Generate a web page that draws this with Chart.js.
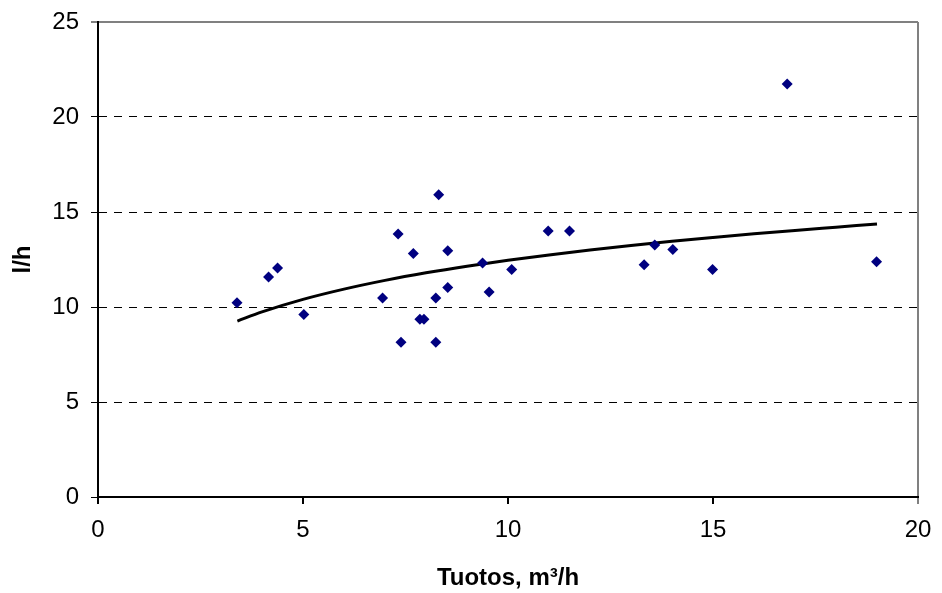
<!DOCTYPE html>
<html>
<head>
<meta charset="utf-8">
<script src="https://cdn.jsdelivr.net/npm/chart.js@4"></script>
<style>
  html, body { margin: 0; padding: 0; background: #fff; }
  #wrap { width: 942px; height: 593px; }
</style>
</head>
<body>
<div id="wrap"><canvas id="c" width="942" height="593"></canvas></div>
<script>
// Measured points (Tuotos m3/h vs l/h)
const pointX = [3.39, 4.16, 4.38, 5.02, 6.94, 7.32, 7.39, 7.69, 7.85, 7.95, 8.24, 8.24, 8.31, 8.53, 8.53, 9.38, 9.54, 10.09, 10.98, 11.5, 13.32, 13.58, 14.02, 14.99, 16.81, 18.99];
const pointY = [10.23, 11.58, 12.05, 9.6, 10.47, 13.84, 8.14, 12.81, 9.35, 9.35, 10.47, 8.14, 15.91, 12.96, 11.03, 12.32, 10.79, 11.98, 14.0, 14.0, 12.23, 13.26, 13.02, 11.98, 21.74, 12.38];
// Trend curve
const trendX = [3.4, 4, 5, 6, 7, 8, 9, 10, 11, 12, 13, 14, 15, 16, 17, 18, 19];
const trendY = [9.26, 9.74, 10.40, 10.94, 11.40, 11.80, 12.15, 12.46, 12.74, 13.00, 13.24, 13.46, 13.66, 13.85, 14.03, 14.20, 14.37];
// Axes
const xMin = 0, xMax = 20, xStep = 5;
const yMin = 0, yMax = 25, yStep = 5;
const xTitle = 'Tuotos, m³/h';
const yTitle = 'l/h';

const FONT = "'Liberation Sans', Arial, sans-serif";

const scatterData = pointX.map((x, i) => ({ x: x, y: pointY[i] }));
const trendData = trendX.map((x, i) => ({ x: x, y: trendY[i] }));

new Chart(document.getElementById('c'), {
  type: 'scatter',
  data: {
    datasets: [
      {
        label: 'points',
        data: scatterData,
        pointStyle: 'rectRot',
        pointRadius: 5.5,
        pointBackgroundColor: '#000080',
        pointBorderColor: '#000080',
        pointBorderWidth: 0,
        showLine: false,
        order: 1
      },
      {
        label: 'trend',
        data: trendData,
        showLine: true,
        borderColor: '#000000',
        borderWidth: 3,
        pointRadius: 0,
        cubicInterpolationMode: 'monotone',
        fill: false,
        order: 2
      }
    ]
  },
  options: {
    responsive: false,
    animation: false,
    devicePixelRatio: 1,
    layout: { padding: { top: 22, right: 24, left: 0, bottom: 0 } },
    plugins: { legend: { display: false }, tooltip: { enabled: false } },
    scales: {
      x: {
        type: 'linear',
        min: xMin, max: xMax,
        afterFit: s => { s.height = 96; s.paddingLeft = 0; s.paddingRight = 0; },
        ticks: { stepSize: xStep, color: '#000', font: { family: FONT, size: 24 }, padding: 12, maxRotation: 0 },
        grid: {
          color: c => (c.tick && c.tick.value === xMax) ? '#808080' : 'rgba(0,0,0,0)',
          lineWidth: 2,
          drawTicks: true,
          tickLength: 7,
          tickColor: c => (c.tick && c.tick.value === xMax) ? '#808080' : '#000',
          tickWidth: 2
        },
        border: { display: true, color: '#000', width: 2 },
        title: { display: true, text: xTitle, color: '#000', font: { family: FONT, size: 24, weight: 'bold' }, padding: { top: 0, bottom: 0 } }
      },
      y: {
        type: 'linear',
        min: yMin, max: yMax,
        afterFit: s => { s.width = 98; s.paddingTop = 0; s.paddingBottom = 0; },
        ticks: { stepSize: yStep, color: '#000', font: { family: FONT, size: 24 }, padding: 12 },
        grid: {
          color: c => {
            if (!c.tick) return '#000';
            if (c.tick.value === yMax) return '#808080';
            if (c.tick.value === yMin) return 'rgba(0,0,0,0)';
            return '#000';
          },
          lineWidth: c => (c.tick && c.tick.value === yMax) ? 2 : 1,
          drawTicks: true,
          tickLength: 7,
          tickColor: '#000',
          tickWidth: 1,
          tickBorderDash: []
        },
        border: {
          display: true, color: '#000', width: 2,
          dash: c => (c.tick && c.tick.value !== yMax) ? [8, 7] : []
        },
        title: { display: true, text: yTitle, color: '#000', font: { family: FONT, size: 24, weight: 'bold' }, padding: { top: 9, bottom: 0 } }
      }
    }
  }
});
</script>
</body>
</html>
